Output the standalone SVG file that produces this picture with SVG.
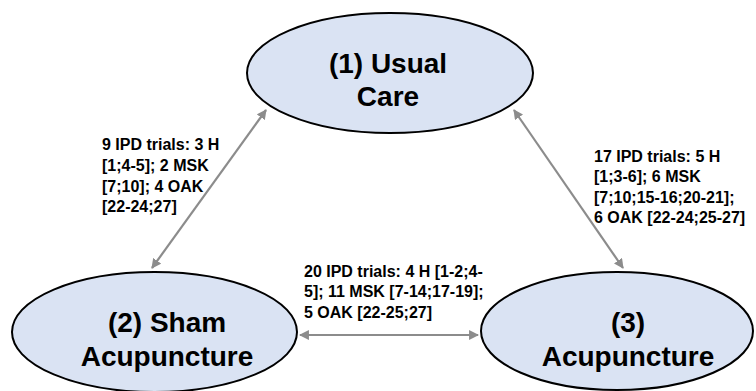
<svg xmlns="http://www.w3.org/2000/svg" width="756" height="391" viewBox="0 0 756 391">
<style>
.node{fill:#dae3f3;stroke:#000;stroke-width:2}
.nt{font-family:"Liberation Sans",Arial,sans-serif;font-weight:bold;font-size:28px;fill:#000;text-anchor:middle}
.el{font-family:"Liberation Sans",Arial,sans-serif;font-weight:bold;font-size:16px;fill:#000}
.con{stroke:#8c8c8c;stroke-width:2.2;fill:none;marker-start:url(#ah);marker-end:url(#ah)}
</style>
<defs>
<marker id="ah" viewBox="0 0 10 10" refX="9" refY="5" markerWidth="4.5" markerHeight="4.5" orient="auto-start-reverse" markerUnits="strokeWidth">
<path d="M0,0 L10,5 L0,10 z" fill="#8c8c8c"/>
</marker>
</defs>
<rect width="756" height="391" fill="#fff"/>
<g id="connectors">
<line class="con" x1="266" y1="110" x2="152" y2="268"/>
<line class="con" x1="514" y1="110" x2="623" y2="268"/>
<line class="con" x1="300" y1="335" x2="478" y2="335"/>
</g>
<g id="node1">
<ellipse class="node" cx="390" cy="73" rx="143" ry="60"/>
<text class="nt" x="388" y="73">(1) Usual</text>
<text class="nt" x="388" y="106">Care</text>
</g>
<g id="node2">
<ellipse class="node" cx="154.5" cy="332" rx="142.5" ry="60"/>
<text class="nt" x="167" y="332">(2) Sham</text>
<text class="nt" x="167" y="366">Acupuncture</text>
</g>
<g id="node3">
<ellipse class="node" cx="617" cy="331" rx="136" ry="59"/>
<text class="nt" x="628" y="332">(3)</text>
<text class="nt" x="628" y="366">Acupuncture</text>
</g>
<g id="label12">
<text class="el" x="102" y="150">9 IPD trials: 3 H</text>
<text class="el" x="102" y="171">[1;4-5]; 2 MSK</text>
<text class="el" x="102" y="192">[7;10]; 4 OAK</text>
<text class="el" x="102" y="212">[22-24;27]</text>
</g>
<g id="label13">
<text class="el" x="594" y="162">17 IPD trials: 5 H</text>
<text class="el" x="594" y="182">[1;3-6]; 6 MSK</text>
<text class="el" x="594" y="203">[7;10;15-16;20-21];</text>
<text class="el" x="594" y="223">6 OAK [22-24;25-27]</text>
</g>
<g id="label23">
<text class="el" x="304" y="277">20 IPD trials: 4 H [1-2;4-</text>
<text class="el" x="304" y="297">5]; 11 MSK [7-14;17-19];</text>
<text class="el" x="304" y="318">5 OAK [22-25;27]</text>
</g>
</svg>
